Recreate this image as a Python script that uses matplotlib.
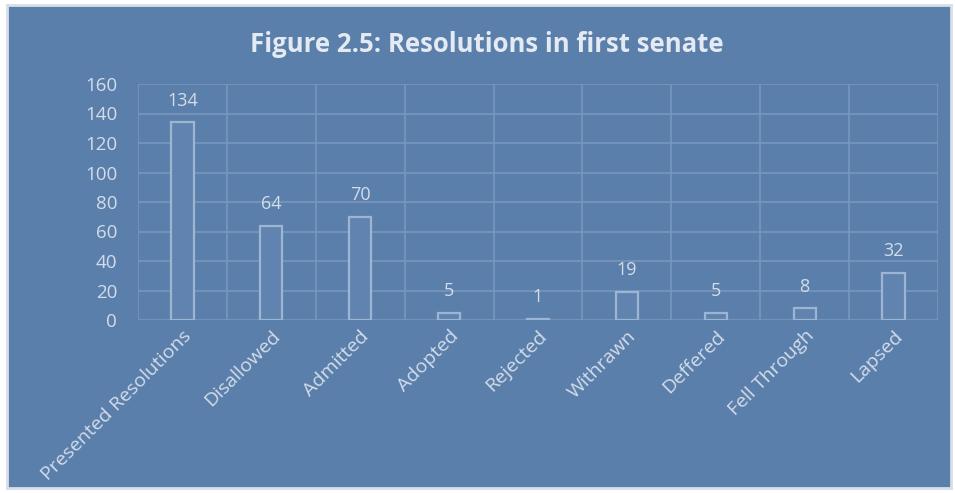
import matplotlib.pyplot as plt
import numpy as np

categories = ['Presented Resolutions', 'Disallowed', 'Admitted', 'Adopted', 'Rejected',
              'Withrawn', 'Deffered', 'Fell Through', 'Lapsed']
counts = [134, 64, 70, 5, 1, 19, 5, 8, 32]

bg = '#5b7fab'
grid_col = '#7896bd'
edge_col = '#9db4d2'
text_col = '#d3dcea'

plt.rcParams['font.family'] = ['Open Sans', 'DejaVu Sans']

fig = plt.figure(figsize=(9.55, 4.93), dpi=100)
fig.patch.set_facecolor('white')

# blue panel behind the chart, with a light frame
back = fig.add_axes([7 / 955, 5 / 493, 944 / 955, 483 / 493], zorder=-1)
back.set_facecolor(bg)
back.set_xticks([])
back.set_yticks([])
for s in back.spines.values():
    s.set_color('#d9dfe8')
    s.set_linewidth(2)

ax = fig.add_axes([138 / 955, (493 - 320) / 493, 800 / 955, 236 / 493])
ax.patch.set_alpha(0)

pos = np.arange(len(categories))
ax.bar(pos, counts, width=0.25, facecolor='#6084af', edgecolor=edge_col, linewidth=1.6, zorder=3)

for p, v in zip(pos, counts):
    ax.annotate(str(v), (p, v), xytext=(0, 9), textcoords='offset points', ha='center', va='bottom',
                color=text_col, fontsize=13, zorder=4)

ax.set_xlim(-0.5, len(categories) - 0.5)
ax.set_ylim(0, 160)
ax.set_yticks(range(0, 161, 20))
ax.set_xticks(pos)
ax.set_xticklabels(categories, rotation=45, ha='right', rotation_mode='anchor',
                   color=text_col, fontsize=14)
ax.tick_params(axis='x', length=0, pad=5)
ax.tick_params(axis='y', length=0, pad=15, labelcolor=text_col, labelsize=13.5)

# horizontal grid and vertical category dividers
ax.grid(axis='y', color=grid_col, linewidth=1.2, zorder=1)
for b in np.arange(-0.5, len(categories), 1):
    ax.axvline(b, color=grid_col, linewidth=1.2, zorder=1)
for s in ax.spines.values():
    s.set_visible(False)

fig.text(487 / 955, 1 - 44 / 493, 'Figure 2.5: Resolutions in first senate', ha='center', va='center',
         color='#e4eaf2', fontsize=18.5, fontweight='bold')

fig.savefig('out.png', dpi=100, facecolor=fig.get_facecolor())
